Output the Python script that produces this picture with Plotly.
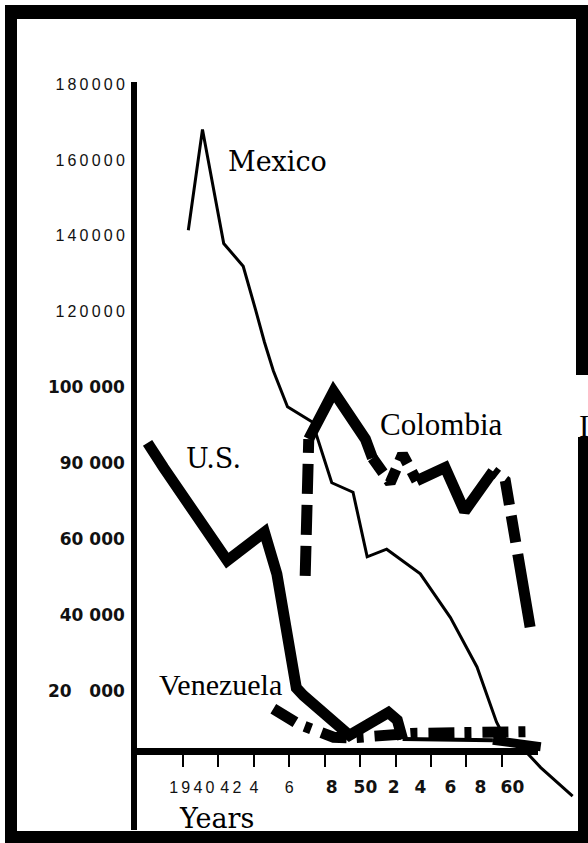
import plotly.graph_objects as go

# values: x = year, y = cases
MEXICO_YEARS = [1940.3, 1941.1, 1942.3, 1943.4, 1944.1, 1944.6, 1945.1, 1945.9, 1947.3, 1948.4,
                1949.6, 1950.4, 1951.5, 1953.4, 1955.1, 1956.6, 1957.7, 1958.2, 1959.4, 1960.2, 1962.0]
MEXICO_CASES = [141500, 168000, 138000, 132000, 120500, 112000, 104500, 95000, 91000, 75000,
                72500, 55500, 57500, 51000, 39500, 26500, 12000, 7500, 4000, 0, -7500]

US_YEARS = [1938.0, 1938.9, 1942.5, 1944.6, 1945.3, 1946.0, 1946.4, 1946.8, 1949.4,
            1951.6, 1952.1, 1952.4, 1957.5, 1960.2]
US_CASES = [85500, 79000, 54500, 62000, 51000, 33500, 21000, 19000, 8500,
            14500, 12500, 7500, 7200, 5500]

COLOMBIA_YEARS = [1946.9, 1947.1, 1948.5, 1950.3, 1950.7, 1951.7, 1952.4, 1953.2, 1954.8,
                  1955.9, 1957.5, 1958.2, 1959.6]
COLOMBIA_CASES = [50500, 86500, 99000, 86500, 81500, 75000, 82500, 75500, 79000,
                  67500, 78000, 75500, 37000]

VENEZUELA_YEARS = [1945.1, 1946.5, 1948.5, 1949.4, 1952.9, 1959.9]
VENEZUELA_CASES = [15500, 11500, 8000, 7800, 9000, 9500]

Y_TICKS = [180000, 160000, 140000, 120000, 100000, 80000, 60000, 40000, 20000]
Y_LABELS = ["180000", "160000", "140000", "120000", "100 000", "90 000", "60 000", "40 000", "20\u00a0\u00a0\u00a0000"]

X_TICKS = [1940, 1942, 1944, 1946, 1948, 1950, 1952, 1954, 1956, 1958]
X_LABEL_AT = [1940.5, 1942.7, 1944.0, 1946.0, 1948.4, 1950.3, 1951.9, 1953.4, 1955.1, 1956.8, 1958.6]
X_LABELS = ["1940", "42", "4", "6", "8", "50", "2", "4", "6", "8", "60"]

# plot box in page pixels and the scale of the scan
L, R, T, B = 137, 578, 82, 830
PX_PER_YEAR, X1940 = 17.71, 183
PX_PER_CASE, Y100K = 1 / 263.3, 387.8


def px_x(x):
    return (x - L) / (R - L)


def px_y(y):
    return (B - y) / (B - T)


def thin(s):
    return '<span style="font-family:Liberation Sans">' + "\u2009".join(s) + "</span>"


def bold(s):
    return '<b><span style="font-family:DejaVu Sans;font-size:17px">' + s + "</span></b>"


def add_pieces(fig, xs, ys, pieces):
    # one series drawn as several pieces, each with its own width / dash
    for i0, i1, width, dash in pieces:
        fig.add_trace(go.Scatter(x=xs[i0:i1 + 1], y=ys[i0:i1 + 1], mode="lines",
                                 line=dict(color="black", width=width, dash=dash)))


fig = go.Figure()

fig.add_trace(go.Scatter(x=MEXICO_YEARS, y=MEXICO_CASES, mode="lines",
                         line=dict(color="black", width=3)))
fig.add_trace(go.Scatter(x=VENEZUELA_YEARS, y=VENEZUELA_CASES, mode="lines",
                         line=dict(color="black", width=11, dash="26px,10px,7px,11px")))
add_pieces(fig, US_YEARS, US_CASES, [(0, 11, 11, "solid"), (11, 12, 4, "solid"), (12, 13, 9, "solid")])
add_pieces(fig, COLOMBIA_YEARS, COLOMBIA_CASES,
           [(0, 1, 11, "30px,11px"), (1, 4, 11, "solid"), (4, 7, 11, "18px,9px"),
            (7, 10, 11, "solid"), (10, 12, 11, "6px,9px,25px,11px,27px,12px,90px")])

# frame of the scanned page
frame = [(5, 5, 588, 19), (5, 5, 17, 843), (5, 831, 588, 843),
         (576, 5, 588, 375), (578, 437, 588, 843)]
shapes = [dict(type="rect", xref="paper", yref="paper", x0=px_x(a), x1=px_x(c), y0=px_y(d), y1=px_y(b),
               fillcolor="black", line=dict(width=0), layer="above") for a, b, c, d in frame]
# x axis line stops short of the right edge
shapes.append(dict(type="line", xref="paper", yref="paper", x0=px_x(L), x1=px_x(538),
                   y0=px_y(751.5), y1=px_y(751.5), line=dict(color="black", width=7)))

labels = [("Mexico", 277, 161, "DejaVu Serif", 27),
          ("U.S.", 213, 458, "DejaVu Serif", 27),
          ("Colombia", 441, 425, "Liberation Serif", 31),
          ("Venezuela", 220, 684, "Liberation Serif", 30),
          ("I", 584, 427, "Liberation Serif", 31),
          ("Years", 216, 818, "DejaVu Serif", 27)]
annotations = [dict(text=t, x=px_x(x), y=px_y(y), xref="paper", yref="paper", showarrow=False,
                    xanchor="center", yanchor="middle", font=dict(family=f, size=s, color="black"))
               for t, x, y, f, s in labels]

fig.update_layout(
    width=588, height=843,
    margin=dict(l=L, r=588 - R, t=T, b=843 - B),
    plot_bgcolor="white", paper_bgcolor="white",
    showlegend=False,
    shapes=shapes,
    annotations=annotations,
    xaxis=dict(
        range=[1940 + (L - X1940) / PX_PER_YEAR, 1940 + (R - X1940) / PX_PER_YEAR],
        anchor="free", position=px_y(751.5),
        showline=False, showgrid=False, zeroline=False,
        tickmode="array", tickvals=X_LABEL_AT,
        ticktext=[thin(t) for t in X_LABELS[:4]] + [bold(t) for t in X_LABELS[4:]],
        ticks="", ticklabelstandoff=24,
        tickfont=dict(family="Liberation Sans", size=16, color="#111"),
        minor=dict(tickmode="array", tickvals=X_TICKS, ticks="outside",
                   ticklen=14, tickwidth=2, tickcolor="black"),
    ),
    yaxis=dict(
        range=[100000 - (B - Y100K) / PX_PER_CASE, 100000 + (Y100K - T) / PX_PER_CASE],
        showline=True, linewidth=6, linecolor="black",
        showgrid=False, zeroline=False,
        tickmode="array", tickvals=Y_TICKS,
        ticktext=[thin(t) for t in Y_LABELS[:4]] + [bold(t) for t in Y_LABELS[4:]],
        ticks="", ticklabelstandoff=3,
        tickfont=dict(family="Liberation Sans", size=16, color="#111"),
    ),
)

fig.write_html("out.html", config={"displayModeBar": False},
               post_script="document.body.style.margin='0';")
